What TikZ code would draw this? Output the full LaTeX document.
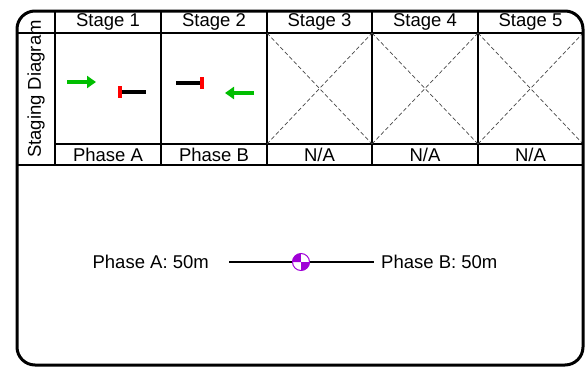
\documentclass[tikz,border=0pt]{standalone}
\usepackage{fontspec}
\setmainfont{Liberation Sans}
\usetikzlibrary{arrows.meta}
\definecolor{grn}{RGB}{0,190,0}
\definecolor{rd}{RGB}{255,0,0}
\definecolor{purp}{RGB}{160,0,215}
\definecolor{dgray}{RGB}{70,70,70}
\begin{document}
\begin{tikzpicture}[x=1pt,y=1pt,
  lbl/.style={font=\fontsize{18.5}{21}\selectfont, inner sep=0pt},
  grid/.style={line width=2pt},
  outer/.style={line width=3pt, rounded corners=18pt},
  xline/.style={dash pattern=on 4pt off 2.5pt, line width=0.7pt, dgray},
  garrow/.style={grn, line width=4pt, -{Triangle[length=9pt,width=12pt]}},
  bar/.style={line width=4pt, black},
  redbar/.style={line width=3.5pt, rd},
  conn/.style={line width=2pt}]
\useasboundingbox (0,0) rectangle (586,-367);
% grid
\draw[grid] (17,-33) -- (583,-33);
\draw[grid] (55,-144) -- (583,-144);
\draw[grid] (17,-165) -- (583,-165);
\foreach \x in {55,161,267,372,478} \draw[grid] (\x,-11) -- (\x,-165);
% X placeholders
\foreach \a/\b in {267/372,372/478,478/583} {
  \draw[xline] (\a,-33) -- (\b,-144);
  \draw[xline] (\a,-144) -- (\b,-33);
}
% outer frame
\draw[outer] (17,-365) rectangle (583,-11);
% labels
\node[lbl, rotate=90] (title) at (36,-89) {Staging Diagram};
\node[lbl] (s1) at (108,-22) {Stage 1};
\node[lbl] (s2) at (214,-22) {Stage 2};
\node[lbl] (s3) at (319.5,-22) {Stage 3};
\node[lbl] (s4) at (425,-22) {Stage 4};
\node[lbl] (s5) at (530.5,-22) {Stage 5};
\node[lbl] (p1) at (108,-155) {Phase A};
\node[lbl] (p2) at (214,-155) {Phase B};
\node[lbl] (p3) at (319.5,-155) {N/A};
\node[lbl] (p4) at (425,-155) {N/A};
\node[lbl] (p5) at (530.5,-155) {N/A};
% stage 1 symbols
\coordinate (g1a) at (67,-82);
\coordinate (g1b) at (96,-82);
\draw[garrow] (g1a) -- (g1b);
\coordinate (b1a) at (120,-92);
\coordinate (b1b) at (146,-92);
\draw[bar] (b1a) -- (b1b);
\draw[redbar] (120,-86) -- (120,-98);
% stage 2 symbols
\coordinate (b2a) at (176,-83);
\coordinate (b2b) at (202,-83);
\draw[bar] (b2a) -- (b2b);
\draw[redbar] (202,-77) -- (202,-89);
\coordinate (g2a) at (254,-93);
\coordinate (g2b) at (225,-93);
\draw[garrow] (g2a) -- (g2b);
% bottom connector
\node[lbl, anchor=east] (pa) at (209,-262) {Phase A: 50m};
\node[lbl, anchor=west] (pb) at (381,-262) {Phase B: 50m};
\coordinate (la) at (229,-262);
\coordinate (lb) at (374,-262);
\node[circle, minimum size=17pt, inner sep=0pt] (cg) at (301,-262) {};
\draw[conn] (la) -- (cg.west);
\draw[conn] (cg.east) -- (lb);
\fill[purp] (cg.center) -- (cg.west) arc[start angle=180,end angle=90,radius=8.5pt] -- cycle;
\fill[purp] (cg.center) -- (cg.east) arc[start angle=0,end angle=-90,radius=8.5pt] -- cycle;
\draw[purp, line width=1pt] (cg) circle[radius=8.5pt];
\end{tikzpicture}
\end{document}
